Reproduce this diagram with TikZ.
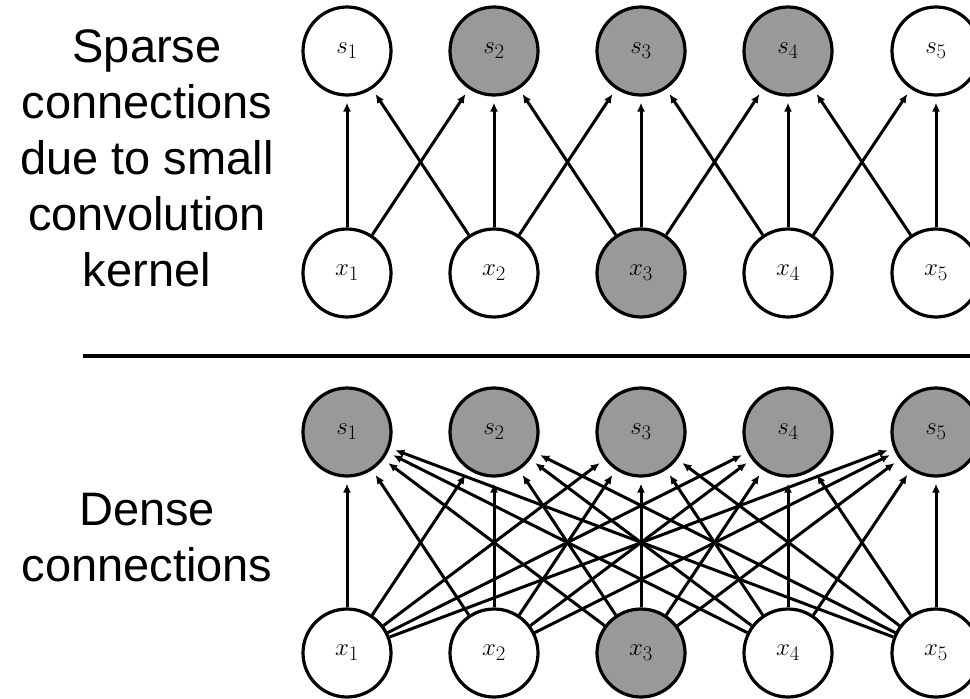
\documentclass[tikz,border=0pt]{standalone}
\usepackage{fontspec}
\setmainfont{Liberation Sans}
\usetikzlibrary{arrows.meta}
\begin{document}
\begin{tikzpicture}[x=1pt,y=-1pt,
  unit/.style={circle,draw=black,line width=3.2pt,minimum size=88pt,inner sep=0pt,
    font=\fontsize{28}{32}\selectfont},
  lit/.style={unit,fill=black!40},
  dark/.style={unit,fill=white},
  conn/.style={line width=3pt,-{Latex[length=9pt,width=8pt]},shorten >=6pt},
  caption/.style={align=center,font=\fontsize{47}{56}\selectfont}]
\useasboundingbox (0,0) rectangle (970,699);
\clip (0,0) rectangle (970,699);

% captions
\node[caption] (capA) at (147,158) {Sparse\\connections\\due to small\\convolution\\kernel};
\node[caption] (capB) at (147,538) {Dense\\connections};

% divider
\coordinate (divL) at (83,356);
\coordinate (divR) at (975,356);
\draw[line width=3.5pt] (divL) -- (divR);

% sparse panel
\foreach \i/\x/\st in {1/347/dark,2/494/lit,3/641/lit,4/788/lit,5/936/dark}
  \node[\st] (ts\i) at (\x,51) {$s_{\i}$};
\foreach \i/\x/\st in {1/347/dark,2/494/dark,3/641/lit,4/788/dark,5/936/dark}
  \node[\st] (tx\i) at (\x,273) {$x_{\i}$};
\foreach \i in {1,...,5}{
  \draw[conn] (tx\i) -- (ts\i);
}
\foreach \i/\j in {1/2,2/3,3/4,4/5}{
  \draw[conn] (tx\i) -- (ts\j);
  \draw[conn] (tx\j) -- (ts\i);
}

% dense panel
\foreach \i/\x in {1/347,2/494,3/641,4/788,5/936}
  \node[lit] (bs\i) at (\x,432) {$s_{\i}$};
\foreach \i/\x/\st in {1/347/dark,2/494/dark,3/641/lit,4/788/dark,5/936/dark}
  \node[\st] (bx\i) at (\x,653) {$x_{\i}$};
\foreach \i in {1,...,5}{
  \foreach \j in {1,...,5}{
    \draw[conn] (bx\i) -- (bs\j);
  }
}
\end{tikzpicture}
\end{document}
